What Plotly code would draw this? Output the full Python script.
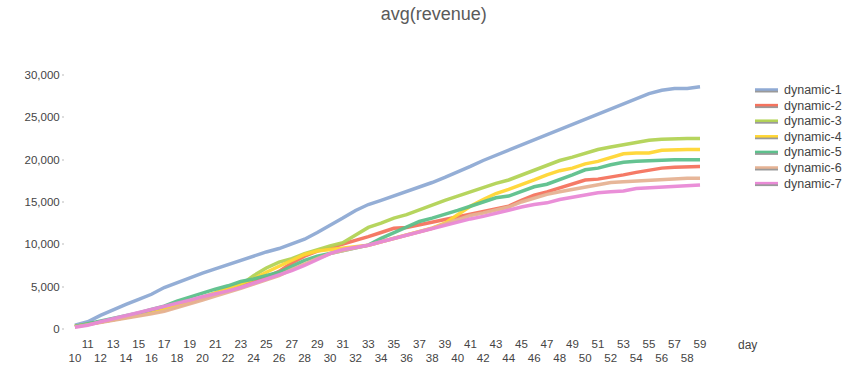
import plotly.graph_objects as go

days = list(range(10, 60))

dyn1 = [450, 850, 1600, 2300, 2900, 3500, 4100, 4900, 5500, 6000,
        6600, 7100, 7600, 8200, 8700, 9100, 9500, 10000, 10600, 11400,
        12200, 13100, 14000, 14700, 15200, 15700, 16200, 16800, 17300, 17900,
        18500, 19200, 19900, 20500, 21100, 21700, 22300, 22900, 23500, 24200,
        24800, 25300, 25900, 26600, 27200, 27800, 28200, 28400, 28400, 28600]
dyn2 = [300, 550, 800, 1050, 1300, 1600, 1900, 2200, 2600, 3100,
        3600, 4100, 4500, 5000, 5500, 6100, 6800, 7800, 8600, 9200,
        9600, 10000, 10400, 10900, 11400, 11900, 12000, 12300, 12600, 12900,
        13300, 13600, 13800, 14100, 14500, 15200, 15800, 16200, 16700, 17200,
        17600, 17700, 17900, 18200, 18500, 18800, 19000, 19100, 19100, 19200]
dyn3 = [300, 550, 850, 1100, 1350, 1600, 1900, 2300, 2800, 3300,
        3800, 4300, 4700, 5200, 6300, 7200, 7900, 8300, 8900, 9400,
        9800, 10200, 11100, 12000, 12500, 13100, 13500, 14100, 14700, 15200,
        15700, 16200, 16800, 17200, 17600, 18200, 18800, 19400, 19900, 20300,
        20800, 21200, 21500, 21800, 22100, 22300, 22400, 22500, 22500, 22500]
dyn4 = [300, 550, 850, 1150, 1400, 1600, 1900, 2300, 2700, 3200,
        3700, 4200, 4800, 5400, 5900, 6700, 7400, 8200, 8800, 9200,
        9400, 9600, 9700, 9900, 10300, 10700, 11100, 11500, 11900, 12500,
        13500, 14500, 15300, 16000, 16500, 17000, 17600, 18200, 18700, 19000,
        19500, 19800, 20300, 20700, 20800, 20800, 21100, 21200, 21200, 21200]
dyn5 = [300, 600, 900, 1200, 1500, 1900, 2300, 2700, 3300, 3800,
        4300, 4700, 5100, 5600, 5900, 6300, 6700, 7400, 8100, 8600,
        8900, 9300, 9600, 9900, 10700, 11400, 12000, 12700, 13100, 13500,
        14000, 14500, 15000, 15500, 15700, 16200, 16800, 17100, 17600, 18200,
        18800, 19000, 19400, 19700, 19800, 19900, 20000, 20000, 20000, 20000]
dyn6 = [250, 500, 800, 1050, 1300, 1550, 1800, 2100, 2500, 2900,
        3400, 3900, 4300, 4800, 5300, 5800, 6300, 7000, 7700, 8300,
        8900, 9300, 9600, 9900, 10300, 10600, 11000, 11400, 11900, 12400,
        12900, 13400, 13700, 14100, 14400, 15000, 15500, 15900, 16200, 16500,
        16800, 17000, 17300, 17400, 17500, 17600, 17700, 17800, 17800, 17800]
dyn7 = [200, 450, 850, 1200, 1550, 1900, 2300, 2700, 3000, 3400,
        3800, 4100, 4500, 4900, 5400, 5800, 6300, 6900, 7500, 8200,
        8900, 9400, 9600, 9900, 10300, 10700, 11000, 11400, 11900, 12300,
        12600, 13000, 13300, 13700, 14000, 14400, 14700, 14900, 15300, 15600,
        15900, 16100, 16200, 16300, 16600, 16700, 16800, 16800, 16900, 17000]

series_names = ["dynamic-1", "dynamic-2", "dynamic-3", "dynamic-4",
                "dynamic-5", "dynamic-6", "dynamic-7"]
series_values = [dyn1, dyn2, dyn3, dyn4, dyn5, dyn6, dyn7]
colors = ["#8FAAD4", "#F5735E", "#B3D356", "#FFD633", "#5DC08C", "#E6B394", "#E98AD6"]

y_ticks = [0, 5000, 10000, 15000, 20000, 25000, 30000]
x_ticktext = [(str(d) if d % 2 == 1 else "<br>" + str(d)) for d in days]

font_family = "Liberation Sans, Arial, sans-serif"
text_color = "#444444"

W, H = 847, 368
ML, MR, MT, MB = 65, 135, 60, 33
PW, PH = W - ML - MR, H - MT - MB


def px_to_paper(px, py):
    return (px - ML) / PW, (H - MB - py) / PH


fig = go.Figure()
for name, vals, col in zip(series_names, series_values, colors):
    fig.add_trace(go.Scatter(
        x=days, y=vals, name=name, mode="lines",
        line=dict(color=col, width=3.5),
        opacity=0.95, showlegend=False,
    ))

# custom compact legend (line sample with grey shadow, label)
shapes = []
annotations = []
for i, (name, col) in enumerate(zip(series_names, colors)):
    cy = 90 + 15.6 * i
    x0, y0 = px_to_paper(755, cy + 1.5)
    x1, _ = px_to_paper(778, cy)
    _, ys = px_to_paper(0, cy + 1.0)
    _, yc = px_to_paper(0, cy - 0.5)
    shapes.append(dict(type="line", xref="paper", yref="paper",
                       x0=x0, x1=x1, y0=ys, y1=ys,
                       line=dict(color="#9a9a9a", width=3)))
    shapes.append(dict(type="line", xref="paper", yref="paper",
                       x0=x0, x1=x1, y0=yc, y1=yc,
                       line=dict(color=col, width=2.5)))
    tx, ty = px_to_paper(782, cy)
    annotations.append(dict(text=name, x=tx, y=ty, xref="paper", yref="paper",
                            xanchor="left", yanchor="middle", showarrow=False,
                            font=dict(family=font_family, size=12.5, color=text_color)))

dx, dy = px_to_paper(736, 336)
annotations.append(dict(text="day", x=dx, y=dy, xref="paper", yref="paper",
                        xanchor="left", yanchor="top", showarrow=False,
                        font=dict(family=font_family, size=12, color=text_color)))

fig.update_layout(
    width=W, height=H,
    margin=dict(l=ML, r=MR, t=MT, b=MB),
    paper_bgcolor="white", plot_bgcolor="white",
    font=dict(family=font_family, size=12, color=text_color),
    title=dict(text="avg(revenue)", x=0.512, xref="container", xanchor="center",
               y=0.962, yref="container", yanchor="middle",
               font=dict(family=font_family, size=18, color="#5a5a5a")),
    showlegend=False,
    xaxis=dict(range=[9.22, 59.94], tickmode="array", tickvals=days,
               ticktext=x_ticktext, showgrid=False, zeroline=False,
               showline=False, ticks="", tickangle=0, automargin=False,
               tickfont=dict(family=font_family, size=11.5, color=text_color)),
    yaxis=dict(range=[-710, 31770], tickmode="array", tickvals=y_ticks,
               tickformat=",", showgrid=False, zeroline=False, showline=False,
               ticks="outside", ticklen=2, tickcolor="#dddddd", tickwidth=2,
               automargin=False,
               tickfont=dict(family=font_family, size=11.5, color=text_color)),
    shapes=shapes,
    annotations=annotations,
)

fig.write_html("out.html")
